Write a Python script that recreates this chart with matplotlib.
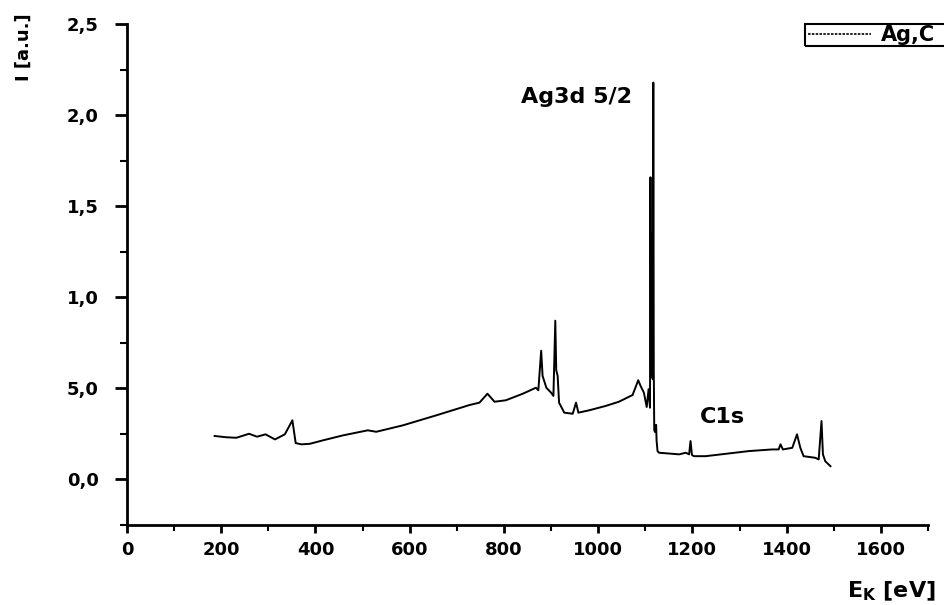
import matplotlib
matplotlib.use("Agg")
import matplotlib.pyplot as plt
from matplotlib.lines import Line2D
from matplotlib.patches import Rectangle
from matplotlib.ticker import MultipleLocator, FixedLocator, FixedFormatter

# ---- data ----
energy_ev = [186, 210, 232, 259, 276, 294, 314, 335, 351, 358, 370, 388, 416, 458, 511, 529,
             585, 656, 727, 748, 765, 780, 804, 840, 868, 873, 879, 882, 890, 900, 905,
             909, 911, 914, 917, 928, 946, 953, 958, 981, 1016, 1044, 1073, 1085, 1090,
             1097, 1103, 1107, 1110, 1111, 1112, 1113, 1114, 1115, 1116, 1117, 1118,
             1119, 1121, 1123, 1124, 1126, 1129, 1172, 1186, 1193, 1196, 1199, 1203,
             1228, 1320, 1369, 1383, 1387, 1392, 1412, 1422, 1429, 1436, 1461, 1468,
             1474, 1477, 1482, 1493]
intensity = [0.239, 0.232, 0.229, 0.251, 0.235, 0.248, 0.220, 0.248, 0.325, 0.200, 0.193,
             0.196, 0.215, 0.242, 0.270, 0.262, 0.297, 0.352, 0.409, 0.422, 0.471, 0.427,
             0.435, 0.471, 0.504, 0.490, 0.707, 0.569, 0.504, 0.477, 0.459, 0.872, 0.600,
             0.569, 0.422, 0.367, 0.361, 0.422, 0.367, 0.380, 0.404, 0.427, 0.464, 0.545,
             0.514, 0.477, 0.398, 0.496, 0.394, 1.660, 0.560, 1.350, 0.580, 1.100, 0.550,
             2.180, 0.600, 0.270, 0.260, 0.300, 0.211, 0.156, 0.147, 0.138, 0.147, 0.138,
             0.211, 0.135, 0.128, 0.128, 0.156, 0.165, 0.165, 0.193, 0.165, 0.174, 0.248,
             0.174, 0.128, 0.119, 0.110, 0.321, 0.138, 0.100, 0.073]

y_ticks = [0.0, 0.5, 1.0, 1.5, 2.0, 2.5]
y_tick_labels = ["0,0", "5,0", "1,0", "1,5", "2,0", "2,5"]
x_ticks = [0, 200, 400, 600, 800, 1000, 1200, 1400, 1600]
series_name = "Ag,C"

plt.rcParams['font.family'] = ['DejaVu Sans']

fig = plt.figure(figsize=(9.44, 6.05), dpi=100)
ax = fig.add_axes([127/944, 1 - 525/605, (928 - 127)/944, (525 - 24.3)/605])

ax.plot(energy_ev, intensity, color='black', lw=1.4)

ax.set_xlim(0, 1700)
ax.set_ylim(-0.25, 2.5)

ax.spines['top'].set_visible(False)
ax.spines['right'].set_visible(False)
for s in ('left', 'bottom'):
    ax.spines[s].set_linewidth(2)

ax.xaxis.set_major_locator(FixedLocator(x_ticks))
ax.xaxis.set_minor_locator(MultipleLocator(100))
ax.yaxis.set_major_locator(FixedLocator(y_ticks))
ax.yaxis.set_major_formatter(FixedFormatter(y_tick_labels))
ax.yaxis.set_minor_locator(MultipleLocator(0.25))

ax.tick_params(axis='both', which='both', direction='out', labelsize=13)
ax.tick_params(axis='y', which='major', length=8.5, width=2, pad=12)
ax.tick_params(axis='y', which='minor', length=5, width=1.5)
ax.tick_params(axis='x', which='major', length=5.5, width=2, pad=6)
ax.tick_params(axis='x', which='minor', length=4, width=1.5)
for lab in ax.get_xticklabels() + ax.get_yticklabels():
    lab.set_fontweight('bold')

ax.text(953, 2.10, "Ag3d 5/2", fontsize=16, fontweight='bold', ha='center', va='center')
ax.text(1263, 0.345, "C1s", fontsize=16, fontweight='bold', ha='center', va='center')

fig.text(24/944, 1 - 47/605, "I [a.u.]", rotation=90, fontsize=13, fontweight='bold',
         ha='center', va='center')
fig.text(891/944, 1 - 591/605, r"E$_\mathbf{K}$ [eV]", fontsize=16, fontweight='bold',
         ha='center', va='center')

# legend (frame extends past the right edge of the figure, as in the reference)
handle = Line2D([], [], color='black', lw=1.2, linestyle=(0, (1.5, 0.8)))
leg = fig.legend([handle], [series_name], loc='center left',
                 bbox_to_anchor=(808/944, 1 - 35/605), frameon=False,
                 prop={'size': 15, 'weight': 'bold'}, handlelength=3.0,
                 borderpad=0.0, handletextpad=0.5, borderaxespad=0)
fig.patches.append(Rectangle((805/944, 1 - 46/605), 160/944, 22/605,
                             transform=fig.transFigure, fill=False,
                             edgecolor='black', linewidth=1.5, clip_on=False))

fig.savefig("out.png", dpi=100)
